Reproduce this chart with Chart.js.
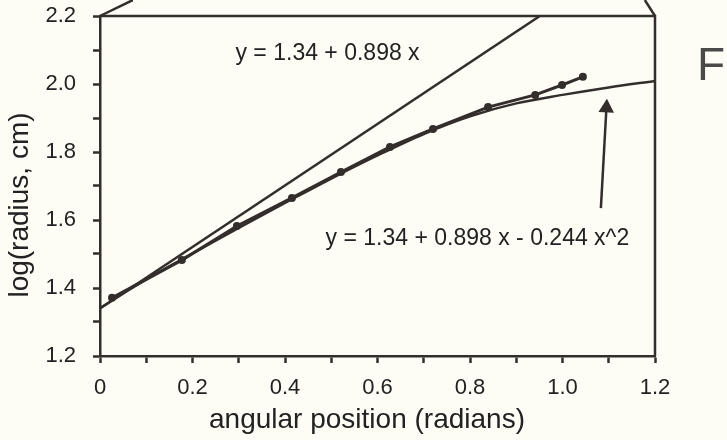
<!DOCTYPE html>
<html>
<head>
<meta charset="utf-8">
<script src="https://cdn.jsdelivr.net/npm/chart.js@4/dist/chart.umd.min.js"></script>
<style>
  html, body { margin: 0; padding: 0; background: #fdfdf5; }
  canvas { display: block; }
</style>
</head>
<body>
<canvas id="grafico" width="727" height="440"></canvas>
<script>
// measured points (angular position, log radius)
var angle = [0.026, 0.177, 0.296, 0.415, 0.521, 0.627, 0.72, 0.839, 0.941, 0.999, 1.044];
var logRadius = [1.371, 1.482, 1.582, 1.665, 1.741, 1.815, 1.868, 1.932, 1.968, 1.997, 2.021];

// linear fit, as drawn
var linX = [0, 0.951];
var linY = [1.34, 2.2];

// quadratic fit
var quadX = [0, 0.1, 0.2, 0.3, 0.4, 0.5, 0.6, 0.7, 0.8, 0.9, 1.0, 1.1, 1.2];
var quadY = [1.341, 1.425, 1.502, 1.577, 1.65, 1.722, 1.79, 1.853, 1.905, 1.943, 1.968, 1.99, 2.009];

// arrow pointing at the curve
var arrowX = [1.083, 1.095];
var arrowY = [1.635, 1.93];

// bits of the page frame above the plot
var frameLeftX = [0, 0.071];
var frameLeftY = [2.2, 2.247];
var frameRightX = [1.2, 1.178];
var frameRightY = [2.2, 2.247];

var xTicks = ['0', '0.2', '0.4', '0.6', '0.8', '1.0', '1.2'];
var yTicks = ['1.2', '1.4', '1.6', '1.8', '2.0', '2.2'];

var ink = '#332e2c';
var fontFam = '"Liberation Sans", Arial, Helvetica, sans-serif';

function pts(xs, ys) {
  return xs.map(function (x, i) { return { x: x, y: ys[i] }; });
}

var textos = {
  id: 'textos',
  afterDraw: function (chart) {
    var c = chart.ctx, a = chart.chartArea;
    var sx = chart.scales.x, sy = chart.scales.y;
    c.save();
    // frame on top and right
    c.strokeStyle = ink;
    c.lineWidth = 2.5;
    c.beginPath();
    c.moveTo(a.left, a.top);
    c.lineTo(a.right, a.top);
    c.lineTo(a.right, a.bottom);
    c.stroke();

    c.fillStyle = '#222';
    c.textBaseline = 'alphabetic';
    c.textAlign = 'center';
    c.font = '23px ' + fontFam;
    c.fillText('y = 1.34 + 0.898 x', sx.getPixelForValue(0.492), sy.getPixelForValue(2.0706));
    c.fillText('y = 1.34 + 0.898 x - 0.244 x^2', sx.getPixelForValue(0.816), sy.getPixelForValue(1.5265));

    c.font = '28px ' + fontFam;
    c.fillText('angular position (radians)', 367, 428);
    c.save();
    c.translate(28, 205);
    c.rotate(-Math.PI / 2);
    c.fillText('log(radius, cm)', 0, 0);
    c.restore();

    c.fillStyle = '#4a4a4a';
    c.textAlign = 'left';
    c.font = '46px ' + fontFam;
    c.fillText('F', sx.getPixelForValue(1.291), sy.getPixelForValue(2.012));
    c.restore();
  }
};

var ctx = document.getElementById('grafico').getContext('2d');

var chart = new Chart(ctx, {
  type: 'scatter',
  data: {
    datasets: [
      {
        label: 'lineal',
        data: pts(linX, linY),
        showLine: true,
        borderColor: ink,
        borderWidth: 2.5,
        pointRadius: 0
      },
      {
        label: 'cuadratica',
        data: pts(quadX, quadY),
        showLine: true,
        borderColor: ink,
        borderWidth: 2.5,
        pointRadius: 0,
        cubicInterpolationMode: 'monotone'
      },
      {
        label: 'datos',
        data: pts(angle, logRadius),
        showLine: true,
        borderColor: ink,
        borderWidth: 3,
        backgroundColor: ink,
        pointRadius: 4,
        pointBorderWidth: 0
      },
      {
        label: 'flecha',
        data: pts(arrowX, arrowY),
        showLine: true,
        borderColor: ink,
        borderWidth: 2.5,
        backgroundColor: ink,
        pointRadius: [0, 9],
        pointStyle: 'triangle',
        rotation: 3,
        pointBorderWidth: 0
      },
      {
        label: 'marco1',
        data: pts(frameLeftX, frameLeftY),
        showLine: true,
        borderColor: ink,
        borderWidth: 2.5,
        pointRadius: 0,
        clip: false
      },
      {
        label: 'marco2',
        data: pts(frameRightX, frameRightY),
        showLine: true,
        borderColor: ink,
        borderWidth: 2.5,
        pointRadius: 0,
        clip: false
      }
    ]
  },
  options: {
    responsive: false,
    animation: false,
    devicePixelRatio: 1,
    layout: { padding: { top: 16, right: 72, left: 0, bottom: 0 } },
    plugins: { legend: { display: false }, tooltip: { enabled: false } },
    scales: {
      x: {
        type: 'linear',
        min: 0,
        max: 1.2,
        afterFit: function (s) { s.height = 84; s.paddingLeft = 0; s.paddingRight = 0; },
        border: { color: ink, width: 2.5 },
        grid: { drawOnChartArea: false, tickLength: 7, tickWidth: 2.5, tickColor: ink },
        ticks: {
          stepSize: 0.1,
          padding: 12,
          color: '#222',
          font: { family: fontFam, size: 22 },
          maxRotation: 0,
          autoSkip: false,
          callback: function (v) {
            var k = Math.round(v * 10);
            return k % 2 === 0 ? xTicks[k / 2] : '';
          }
        }
      },
      y: {
        type: 'linear',
        min: 1.2,
        max: 2.2,
        afterFit: function (s) { s.width = 100; s.paddingTop = 0; s.paddingBottom = 0; },
        border: { color: ink, width: 2.5 },
        grid: { drawOnChartArea: false, tickLength: 7, tickWidth: 2.5, tickColor: ink },
        ticks: {
          stepSize: 0.1,
          padding: 17,
          color: '#222',
          font: { family: fontFam, size: 22 },
          autoSkip: false,
          callback: function (v) {
            var k = Math.round(v * 10) - 12;
            return k % 2 === 0 ? yTicks[k / 2] : '';
          }
        }
      }
    }
  },
  plugins: [textos]
});
</script>
</body>
</html>
